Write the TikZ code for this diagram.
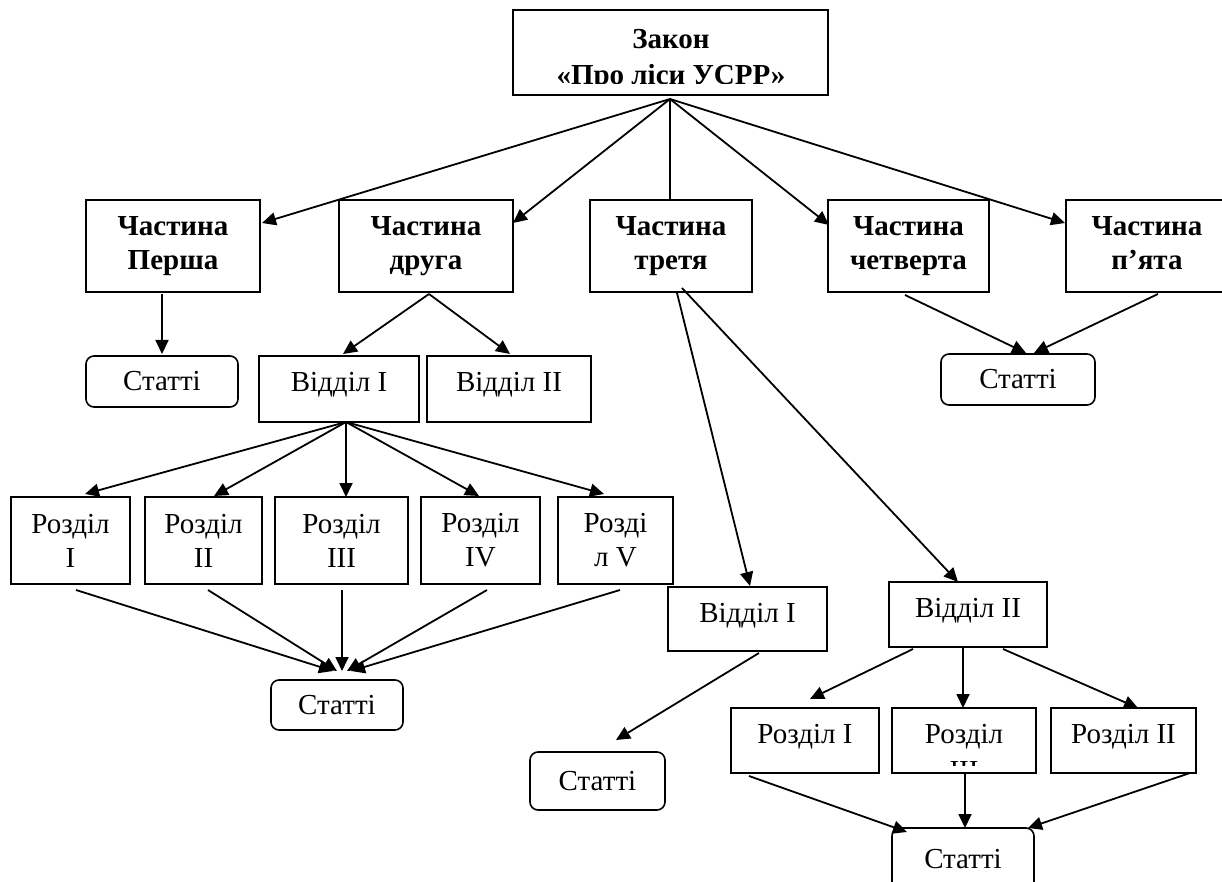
\documentclass[tikz,border=0pt]{standalone}
\usepackage{fontspec}
\setmainfont{Liberation Serif}
\usetikzlibrary{arrows.meta,calc}
\begin{document}
\begin{tikzpicture}[x=0.5pt,y=-0.5pt,
  fnt/.style={font=\fontsize{14.5pt}{17pt}\selectfont},
  box/.style={draw, line width=0.8pt, inner sep=0pt, outer sep=0pt, align=center, fnt},
  bbox/.style={box, font=\fontsize{14.5pt}{17pt}\selectfont\bfseries},
  rbox/.style={box, rounded corners=4pt},
  sz/.style 2 args={minimum width=#1*0.5pt, minimum height=#2*0.5pt},
  dsc/.style={text height=10pt, text depth=7pt},
  txt/.style={inner sep=0pt, outer sep=0pt, anchor=base, fnt},
  btxt/.style={txt, font=\fontsize{14.5pt}{17pt}\selectfont\bfseries},
  arr/.style={line width=0.9pt, -{Triangle[length=7pt,width=6.5pt]}},
  ln/.style={line width=0.9pt}]
\useasboundingbox (0,0) rectangle (1222,882);
\fill[white] (0,0) rectangle (1222,882);
\clip (0,0) rectangle (1222,882);

% top box
\node[box,sz={315}{85}] (top) at (670.5,52.5) {};
\begin{scope}
  \clip (514,11) rectangle (827,84);
  \node[btxt] (t1) at (671,49) {Закон};
  \node[btxt] (t2) at (671,85) {«Про ліси УСРР»};
\end{scope}
\coordinate (apex) at ($(top.south)+(-0.5,4)$);

% parts
\node[bbox,sz={174}{92}] (p1) at (173,246) {Частина\\Перша};
\node[bbox,sz={174}{92}] (p2) at (426,246) {Частина\\друга};
\node[bbox,sz={162}{92}] (p3) at (671,246) {Частина\\третя};
\node[bbox,sz={161}{92}] (p4) at (908.5,246) {Частина\\четверта};
\node[bbox,sz={162}{92}] (p5) at (1147,246) {Частина\\п’ята\vphantom{р}};

% second level
\node[rbox,sz={152}{51}] (s1) at (162,381.5) {Статті};
\node[box,dsc,sz={160}{66}] (v1) at (339,389) {Відділ I};
\node[box,dsc,sz={164}{66}] (v2) at (509,389) {Відділ II};
\node[rbox,sz={154}{51}] (s4) at (1018,379.5) {Статті};

% sections of part two
\node[box,sz={119}{87}] (r1) at (70.5,540.5) {Розділ\\I};
\node[box,sz={117}{87}] (r2) at (203.5,540.5) {Розділ\\II};
\node[box,sz={133}{87}] (r3) at (341.5,540.5) {Розділ\\III};
\node[box,sz={119}{87}] (r4) at (480.5,540.5) {Розділ\\IV};
\node[box,sz={115}{87}] (r5) at (615.5,540.5) {Розді\\л V};
\node[rbox,sz={132}{50}] (s2) at (337,705) {Статті};

% part three
\node[box,dsc,sz={159}{64}] (v3) at (747.5,619) {Відділ I};
\node[box,dsc,sz={158}{65}] (v4) at (968,614.5) {Відділ II};
\node[rbox,sz={135}{58}] (s3) at (597.5,781) {Статті};
\node[box,dsc,sz={148}{65}] (q1) at (805,740.5) {Розділ I};
\node[box,sz={144}{65}] (q2) at (964,740.5) {};
\begin{scope}
  \clip (893,709) rectangle (1035,765);
  \node[txt] (q2a) at (964,743) {Розділ};
  \node[txt] (q2b) at (964,780) {III};
\end{scope}
\node[box,dsc,sz={145}{65}] (q3) at (1123.5,740.5) {Розділ II};
\node[rbox,sz={142}{62}] (s5) at (963,859) {Статті};

% connectors from the law
\draw[arr] (apex) -- ($(p1.north east)+(2,23)$);
\draw[arr] (apex) -- ($(p2.north east)+(0,23)$);
\draw[ln]  (apex) -- (apex |- p3.north);
\draw[arr] (apex) -- ($(p4.north west)+(1,25)$);
\draw[arr] (apex) -- ($(p5.north west)+(-1,23)$);

% part one
\draw[arr] ($(s1.north |- p1.south)+(0,2)$) -- ($(s1.north)+(0,-2)$);
% part two
\draw[arr] ($(p2.south)+(3,2)$) -- ($(v1.north)+(4,-2)$);
\draw[arr] ($(p2.south)+(3,2)$) -- ($(v2.north)+(1,-2)$);
\coordinate (v1f) at ($(v1.south)+(7,0)$);
\draw[arr] (v1f) -- ($(r1.north)+(14.5,-3)$);
\draw[arr] (v1f) -- ($(r2.north)+(10.5,-1)$);
\draw[arr] (v1f) -- (v1f |- r3.north);
\draw[arr] (v1f) -- ($(r4.north)+(-1.5,-1)$);
\draw[arr] (v1f) -- ($(r5.north)+(-11.5,-3)$);
\draw[arr] ($(r1.south)+(5.5,6)$) -- ($(s2.north)+(-4,-9)$);
\draw[arr] ($(r2.south)+(4.5,6)$) -- ($(s2.north)+(0,-9)$);
\draw[arr] ($(r3.south)+(0.5,6)$) -- ($(s2.north)+(5,-9)$);
\draw[arr] ($(r4.south)+(6.5,6)$) -- ($(s2.north)+(10,-9)$);
\draw[arr] ($(r5.south)+(4.5,6)$) -- ($(s2.north)+(14,-9)$);
% parts four and five
\draw[arr] ($(p4.south)+(-3.5,3)$) -- ($(s4.north)+(8,-1)$);
\draw[arr] ($(p5.south)+(11,2)$) -- ($(s4.north)+(16,-1)$);
% part three
\draw[arr] ($(p3.south)+(6,1)$) -- ($(v3.north)+(2.5,-1)$);
\draw[arr] ($(p3.south)+(11,-4)$) -- ($(v4.north)+(-10,0)$);
\draw[arr] ($(v3.south)+(11.5,2)$) -- ($(s3.north)+(18.5,-12)$);
\draw[arr] ($(v4.south)+(-55,2)$) -- ($(q1.north)+(5,-9)$);
\draw[arr] ($(q2.north |- v4.south)+(-1,0)$) -- ($(q2.north)+(-1,0)$);
\draw[arr] ($(v4.south)+(35,2)$) -- ($(q3.north)+(14.5,0)$);
\draw[arr] ($(q1.south)+(-56,3)$) -- ($(s5.north)+(-56,4)$);
\draw[arr] ($(q2.south)+(1,0)$) -- ($(s5.north)+(2,0)$);
\draw[arr] ($(q3.south east)+(-6,0)$) -- ($(s5.north)+(65,0)$);
\end{tikzpicture}
\end{document}
